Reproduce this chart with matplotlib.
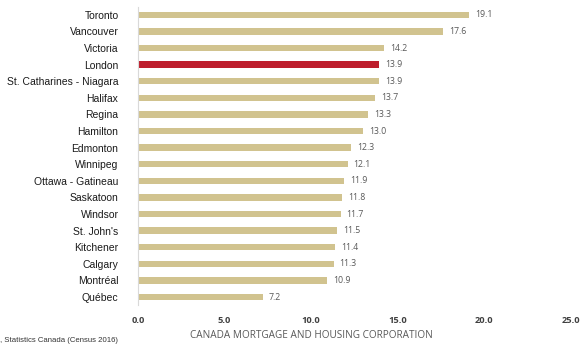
import matplotlib.pyplot as plt

cities = ["Toronto", "Vancouver", "Victoria", "London", "St. Catharines - Niagara",
          "Halifax", "Regina", "Hamilton", "Edmonton", "Winnipeg", "Ottawa - Gatineau",
          "Saskatoon", "Windsor", "St. John's", "Kitchener", "Calgary", "Montréal", "Québec"]
values = [19.1, 17.6, 14.2, 13.9, 13.9, 13.7, 13.3, 13.0, 12.3, 12.1, 11.9,
          11.8, 11.7, 11.5, 11.4, 11.3, 10.9, 7.2]
highlight = "London"
xticks = [0.0, 5.0, 10.0, 15.0, 20.0, 25.0]

fig = plt.figure(figsize=(5.82, 3.45), dpi=100)
ax = fig.add_axes([0.237, 0.115, 0.744, 0.866])

pos = list(range(len(cities)))
colors = ["#BE1E2D" if c == highlight else "#D1C38F" for c in cities]
ax.barh(pos, values, height=0.38, color=colors)
ax.set_ylim(len(cities) - 0.5, -0.5)
ax.set_xlim(0, 25)

for p, v in zip(pos, values):
    ax.text(v + 0.35, p, f"{v:.1f}", va="center", ha="left", fontsize=6.3,
            color="#595959", family="Open Sans")

ax.set_yticks(pos)
ax.set_yticklabels(cities, fontsize=7.5, family="Liberation Sans", color="#1a1a1a")
ax.set_xticks(xticks)
ax.set_xticklabels([f"{t:.1f}" for t in xticks], fontsize=6.7, fontweight="bold",
                   color="#404040", family="Open Sans")
ax.tick_params(axis="both", length=0)
ax.tick_params(axis="y", pad=14)
ax.tick_params(axis="x", pad=8)
for s in ["top", "right", "bottom"]:
    ax.spines[s].set_visible(False)
ax.spines["left"].set_color("#d9d9d9")
ax.spines["left"].set_linewidth(0.8)

fig.text(0.535, 0.028, "CANADA MORTGAGE AND HOUSING CORPORATION", ha="center", va="center",
         fontsize=7.2, color="#595959", family="Open Sans")
fig.text(0.0, 0.012, ", Statistics Canada (Census 2016)", ha="left", va="center",
         fontsize=5.6, color="#333333", family="Liberation Sans")

fig.savefig("out.png", dpi=100)
